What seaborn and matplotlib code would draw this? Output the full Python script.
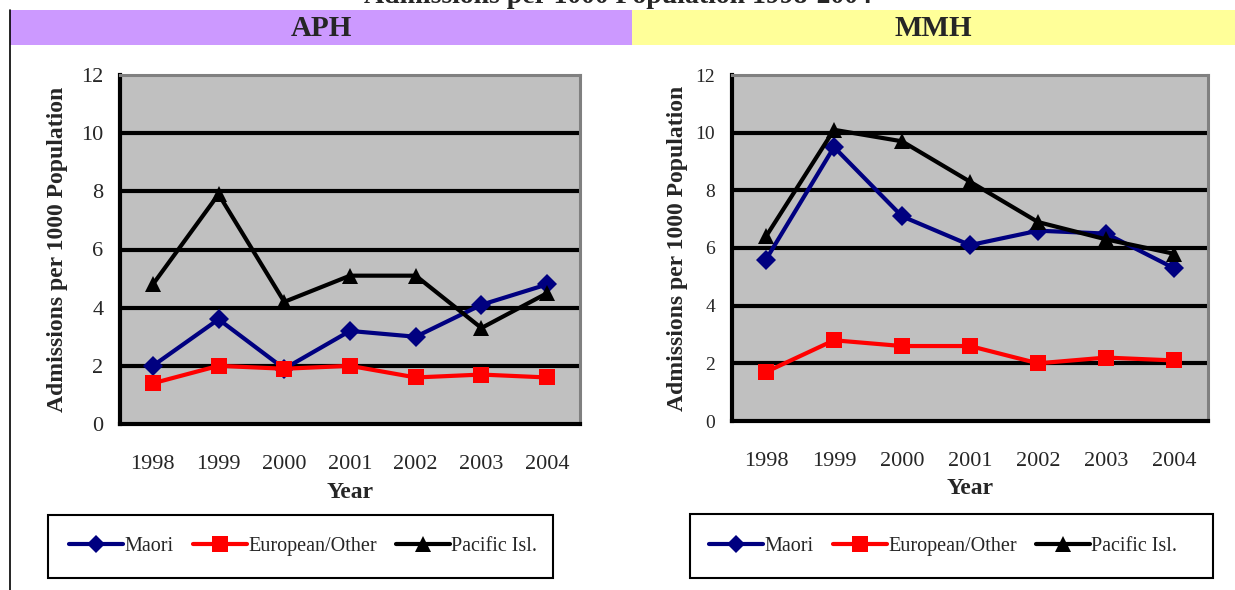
import pandas as pd
import matplotlib.pyplot as plt
import seaborn as sns
from matplotlib.lines import Line2D
from matplotlib.patches import Rectangle

# data
years = ['1998', '1999', '2000', '2001', '2002', '2003', '2004']
groups = ['Maori', 'European/Other', 'Pacific Isl.']

aph_maori = [2.0, 3.6, 1.9, 3.2, 3.0, 4.1, 4.8]
aph_european = [1.4, 2.0, 1.9, 2.0, 1.6, 1.7, 1.6]
aph_pacific = [4.8, 7.9, 4.2, 5.1, 5.1, 3.3, 4.5]

mmh_maori = [5.6, 9.5, 7.1, 6.1, 6.6, 6.5, 5.3]
mmh_european = [1.7, 2.8, 2.6, 2.6, 2.0, 2.2, 2.1]
mmh_pacific = [6.4, 10.1, 9.7, 8.3, 6.9, 6.3, 5.8]

colors = {'Maori': '#000080', 'European/Other': '#FF0000', 'Pacific Isl.': '#000000'}
markers = {'Maori': 'D', 'European/Other': 's', 'Pacific Isl.': '^'}
msizes = {'Maori': 10, 'European/Other': 12, 'Pacific Isl.': 12}


def to_long(maori, european, pacific):
    rows = []
    for g, vals in zip(groups, [maori, european, pacific]):
        for i, v in enumerate(vals):
            rows.append({'pos': i, 'Year': years[i], 'Group': g, 'Value': v})
    return pd.DataFrame(rows)


sns.set_style('white')
plt.rcParams['font.family'] = ['Liberation Serif', 'DejaVu Serif']

W, H = 1235, 590
fig = plt.figure(figsize=(12.35, 5.9), dpi=100)

# header bands
fig.patches.append(Rectangle((10 / W, 1 - 45 / H), (632 - 10) / W, 35 / H,
                             transform=fig.transFigure, facecolor='#CC99FF', edgecolor='none'))
fig.patches.append(Rectangle((632 / W, 1 - 45 / H), (W - 632) / W, 35 / H,
                             transform=fig.transFigure, facecolor='#FFFF99', edgecolor='none'))
fig.lines.append(Line2D([10 / W, 10 / W], [0, 1 - 10 / H], transform=fig.transFigure,
                        color='black', lw=1.2))
fig.text(0.5, 1.0 + 4 / H, 'Admissions per 1000 Population 1998-2004', ha='center', va='center',
         fontsize=20, fontweight='bold')
fig.text(321 / W, 1 - 28 / H, 'APH', ha='center', va='center', fontsize=21, fontweight='bold')
fig.text(933 / W, 1 - 28 / H, 'MMH', ha='center', va='center', fontsize=21, fontweight='bold')

panels = [
    ([120 / W, 1 - 424 / H, 460 / W, 349 / H], to_long(aph_maori, aph_european, aph_pacific),
     (48, 515, 505, 63), 303, 58, 493, 16),
    ([732 / W, 1 - 421 / H, 476 / W, 346 / H], to_long(mmh_maori, mmh_european, mmh_pacific),
     (690, 514, 523, 64), 943, 678, 488, 14),
]

for rect, df, lb, leg_cx, ylab_x, xlab_y, yfs in panels:
    ax = fig.add_axes(rect)
    ax.set_facecolor('#C0C0C0')
    for y in range(2, 12, 2):
        ax.axhline(y, color='black', lw=3, zorder=1)
    sns.lineplot(data=df, x='pos', y='Value', hue='Group', style='Group', palette=colors,
                 markers=markers, dashes=False, linewidth=3, markersize=10,
                 markeredgewidth=0, legend=False, ax=ax, zorder=3)
    # adjust marker sizes per series
    for line, g in zip(ax.lines[-3:], groups):
        line.set_markersize(msizes[g])
        line.set_markeredgecolor(colors[g])
    ax.set_xlim(-0.5, 6.5)
    ax.set_ylim(0, 12)
    ax.set_yticks(range(0, 13, 2))
    ax.set_yticklabels([str(v) for v in range(0, 13, 2)], fontsize=yfs)
    ax.set_xticks(range(7))
    ax.set_xticklabels(years, fontsize=16)
    ax.set_xticks([i - 0.5 for i in range(8)], minor=True)
    ax.tick_params(axis='x', which='major', length=0, pad=22)
    ax.tick_params(axis='x', which='minor', length=6, width=3, color='black', direction='out')
    ax.tick_params(axis='y', length=6, width=3, color='black', direction='out', pad=6)
    ax.set_xlabel('')
    ax.set_ylabel('')
    for s in ['top', 'right']:
        ax.spines[s].set_color('#808080')
        ax.spines[s].set_linewidth(2.2)
    for s in ['left', 'bottom']:
        ax.spines[s].set_color('black')
        ax.spines[s].set_linewidth(3)
    fig.text(ylab_x / W, rect[1] + rect[3] / 2,
             'Admissions per 1000 Population', rotation=90, ha='center', va='center',
             fontsize=17, fontweight='bold')
    fig.text(rect[0] + rect[2] / 2, 1 - xlab_y / H, 'Year', ha='center', va='center',
             fontsize=17, fontweight='bold')

    # legend frame drawn separately, legend itself frameless inside it
    lx, ly, lw, lh = lb
    fig.patches.append(Rectangle((lx / W, 1 - (ly + lh) / H), lw / W, lh / H,
                                 transform=fig.transFigure, facecolor='white',
                                 edgecolor='black', lw=1.5, zorder=1))
    handles = [Line2D([0], [0], color=colors[g], marker=markers[g], markersize=msizes[g] - 1,
                      lw=3, markeredgewidth=0) for g in groups]
    fig.legend(handles, groups, loc='center',
               bbox_to_anchor=(leg_cx / W, 1 - (ly + lh / 2) / H),
               bbox_transform=fig.transFigure, ncol=3, frameon=False,
               fontsize=14.5, handlelength=2.7, handletextpad=0.05, columnspacing=0.95)

fig.savefig('out.png', dpi=100)
